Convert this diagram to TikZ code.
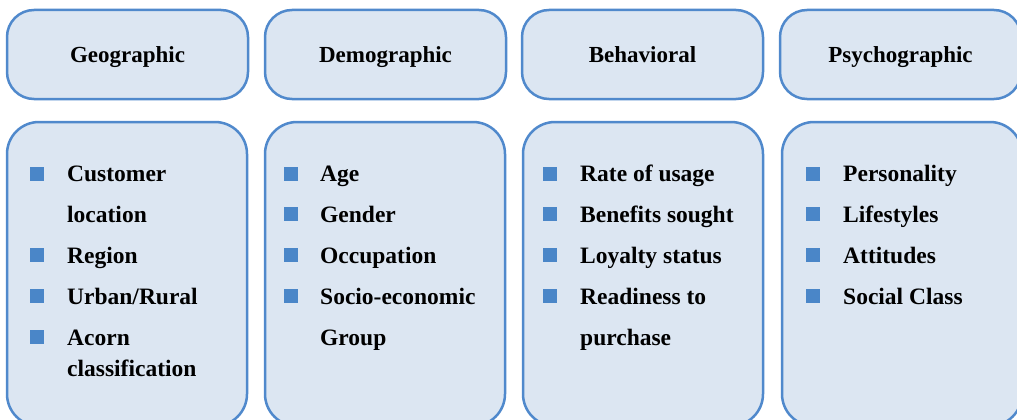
\documentclass[tikz,border=0pt]{standalone}
\usepackage{fontspec}
\setmainfont{Liberation Serif}
\definecolor{edgeblue}{HTML}{5089CC}
\definecolor{fillblue}{HTML}{DCE6F2}
\definecolor{bulblue}{HTML}{4A86C8}
\begin{document}
\begin{tikzpicture}[x=1pt,y=-1pt,
  hdr/.style={draw=edgeblue, fill=fillblue, line width=2.5pt, rounded corners=27pt,
    minimum width=241pt, minimum height=89pt, inner sep=0pt},
  hdrtext/.style={inner sep=0pt, text height=15.5pt, text depth=0pt,
    font=\fontsize{23}{27}\selectfont\bfseries},
  body/.style={draw=edgeblue, fill=fillblue, line width=2.5pt, rounded corners=32pt,
    minimum width=240pt, minimum height=304pt, inner sep=0pt},
  bsq/.style={fill=bulblue, minimum size=14pt, inner sep=0pt},
  item/.style={anchor=base west, inner sep=0pt, font=\fontsize{23.5}{27}\selectfont\bfseries}]
\useasboundingbox (0,0) rectangle (1017,420);

% header boxes
\node[hdr] (h1) at (127.5,54.5) {};
\node[hdr] (h2) at (385.5,54.5) {};
\node[hdr] (h3) at (642.5,54.5) {};
\node[hdr] (h4) at (900.5,54.5) {};
\node[hdrtext] (t1) at (h1) {Geographic};
\node[hdrtext] (t2) at (h2) {Demographic};
\node[hdrtext] (t3) at (h3) {Behavioral};
\node[hdrtext] (t4) at (h4) {Psychographic};

% body boxes
\node[body] (b1) at (127,274) {};
\node[body] (b2) at (385,274) {};
\node[body] (b3) at (643,274) {};
\node[body] (b4) at (902,274) {};

% column 1
\node[bsq] (g1s) at (37,174) {};
\node[bsq] (g2s) at (37,255) {};
\node[bsq] (g3s) at (37,296) {};
\node[bsq] (g4s) at (37,337) {};
\node[item] (g1a) at (67,181) {Customer};
\node[item] (g1b) at (67,222) {location};
\node[item] (g2) at (67,263) {Region};
\node[item] (g3) at (67,304) {Urban/Rural};
\node[item] (g4a) at (67,345) {Acorn};
\node[item] (g4b) at (67,376) {classification};

% column 2
\node[bsq] (d1s) at (291,174) {};
\node[bsq] (d2s) at (291,214) {};
\node[bsq] (d3s) at (291,255) {};
\node[bsq] (d4s) at (291,296) {};
\node[item] (d1) at (320,181) {Age};
\node[item] (d2) at (320,222) {Gender};
\node[item] (d3) at (320,263) {Occupation};
\node[item] (d4a) at (320,304) {Socio-economic};
\node[item] (d4b) at (320,345) {Group};

% column 3
\node[bsq] (r1s) at (550,174) {};
\node[bsq] (r2s) at (550,214) {};
\node[bsq] (r3s) at (550,255) {};
\node[bsq] (r4s) at (550,296) {};
\node[item] (r1) at (580,181) {Rate of usage};
\node[item] (r2) at (580,222) {Benefits sought};
\node[item] (r3) at (580,263) {Loyalty status};
\node[item] (r4a) at (580,304) {Readiness to};
\node[item] (r4b) at (580,345) {purchase};

% column 4
\node[bsq] (p1s) at (813,174) {};
\node[bsq] (p2s) at (813,214) {};
\node[bsq] (p3s) at (813,255) {};
\node[bsq] (p4s) at (813,296) {};
\node[item] (p1) at (843,181) {Personality};
\node[item] (p2) at (843,222) {Lifestyles};
\node[item] (p3) at (843,263) {Attitudes};
\node[item] (p4) at (843,304) {Social Class};
\end{tikzpicture}
\end{document}
